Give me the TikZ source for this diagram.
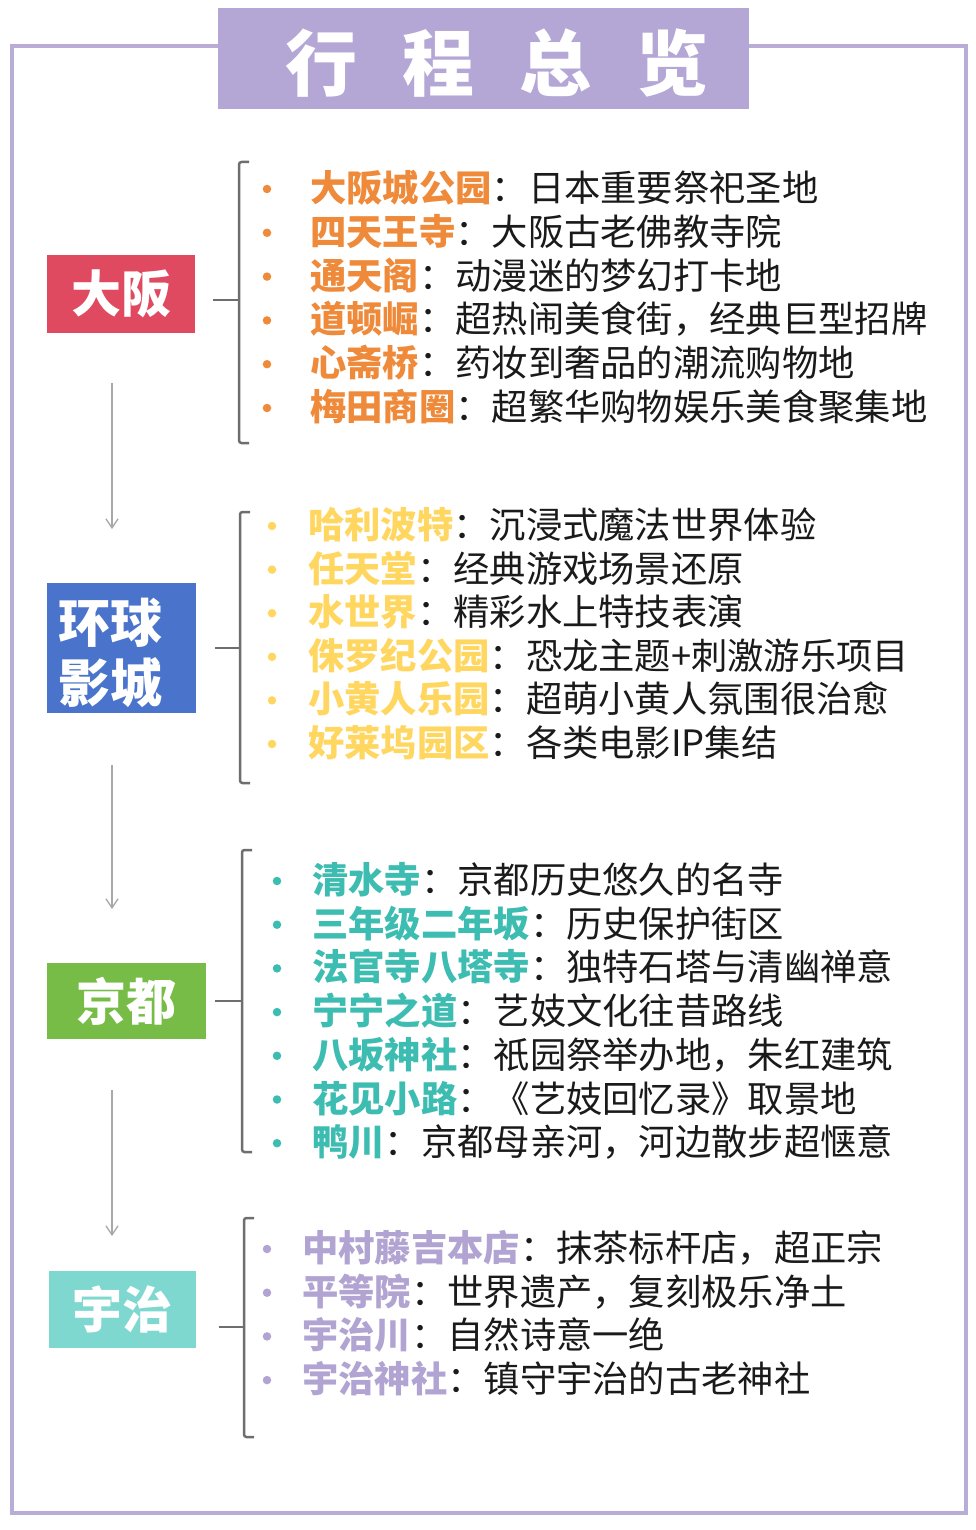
\documentclass[tikz,border=0pt]{standalone}
\usepackage{fontspec}
\setmainfont{Noto Sans CJK SC}
\usetikzlibrary{arrows.meta}
\definecolor{lav}{HTML}{B4A7D6}
\definecolor{framec}{HTML}{B9ADD8}
\definecolor{kor}{HTML}{EF8A3A}
\definecolor{kye}{HTML}{FFD760}
\definecolor{kte}{HTML}{3DBDB1}
\definecolor{kla}{HTML}{B2A4D2}
\definecolor{boxred}{HTML}{E04A60}
\definecolor{boxblue}{HTML}{4A74CC}
\definecolor{boxgreen}{HTML}{76BC47}
\definecolor{boxteal}{HTML}{7ED8D0}
\definecolor{brkc}{HTML}{6E6E6E}
\definecolor{arrc}{HTML}{A8A8A8}
\definecolor{txt}{HTML}{1A1A1A}
\begin{document}
\begin{tikzpicture}[x=1pt,y=-1pt,
  framestyle/.style={draw=framec,line width=4pt},
  titlebox/.style={fill=lav,minimum width=531pt,minimum height=101pt,inner sep=0pt},
  titletext/.style={text=white,font=\fontsize{72}{72}\selectfont\bfseries,inner sep=0pt},
  citybox/.style={inner sep=0pt,text=white,font=\fontsize{50}{56}\selectfont\bfseries},
  itm/.style={inner sep=0pt,text=txt,font=\fontsize{36.3}{36}\selectfont},
  bul/.style={circle,inner sep=0pt,minimum size=8.5pt},
  brk/.style={draw=brkc,line width=2.5pt,rounded corners=2.5pt},
  arr/.style={draw=arrc,line width=1.3pt,-{Straight Barb[length=9pt,width=12pt]}}
  ]
\useasboundingbox (0,0) rectangle (975,1530);
\fill[white] (0,0) rectangle (975,1530);
\draw[framestyle] (12,46) rectangle (966,1513);
\node[titlebox] (title) at (483.5,59) {};
\node[titletext] (ttl) at (497,63) {行\hspace{45pt}程\hspace{45pt}总\hspace{45pt}览};

% city boxes
\node[citybox,fill=boxred,minimum width=148pt,minimum height=77pt] (osaka) at (121,294) {大阪};
\node[citybox,fill=boxblue,minimum width=149pt,minimum height=130pt] (usj) at (121.5,648) {};
\node[citybox,align=left,font=\fontsize{52}{60}\selectfont\bfseries] (usjt) at (110.5,653) {环球\\影城};
\node[citybox,fill=boxgreen,minimum width=159pt,minimum height=76pt] (kyoto) at (126.5,1001) {京都};
\node[citybox,fill=boxteal,minimum width=147pt,minimum height=77pt] (uji) at (122.5,1309.5) {宇治};

% arrows
\coordinate (a1s) at (112,383);
\coordinate (a1e) at (112,529);
\coordinate (a2s) at (112,765);
\coordinate (a2e) at (112,909);
\coordinate (a3s) at (112,1090);
\coordinate (a3e) at (112,1236);
\draw[arr] (a1s) -- (a1e);
\draw[arr] (a2s) -- (a2e);
\draw[arr] (a3s) -- (a3e);

% brackets
\draw[brk] (249,162) -- (239,162) -- (239,443) -- (249,443);
\coordinate (s1) at (213,300);
\draw[brk] (s1) -- (239,300);
\draw[brk] (250,512) -- (240,512) -- (240,783) -- (250,783);
\coordinate (s2) at (215,648);
\draw[brk] (s2) -- (240,648);
\draw[brk] (252,850) -- (242,850) -- (242,1152) -- (252,1152);
\coordinate (s3) at (215,1001);
\draw[brk] (s3) -- (242,1001);
\draw[brk] (254,1218) -- (244,1218) -- (244,1437) -- (254,1437);
\coordinate (s4) at (219,1327);
\draw[brk] (s4) -- (244,1327);

% Osaka items
\foreach \k/\d [count=\i] in {大阪城公园/日本重要祭祀圣地,四天王寺/大阪古老佛教寺院,通天阁/动漫迷的梦幻打卡地,道顿崛/超热闹美食街，经典巨型招牌,心斋桥/药妆到奢品的潮流购物地,梅田商圈/超繁华购物娱乐美食聚集地}{
  \node[bul,fill=kor] (ob\i) at (267,{189+(\i-1)*43.8}) {};
  \node[itm,anchor=base west] (oi\i) at (310,{188+(\i-1)*43.8+13.5}) {\textcolor{kor}{\bfseries\k}：\d};
}
% USJ items
\foreach \k/\d [count=\i] in {哈利波特/沉浸式魔法世界体验,任天堂/经典游戏场景还原,水世界/精彩水上特技表演,侏罗纪公园/恐龙主题+刺激游乐项目,小黄人乐园/超萌小黄人氛围很治愈,好莱坞园区/各类电影IP集结}{
  \node[bul,fill=kye] (ub\i) at (272,{526+(\i-1)*43.6}) {};
  \node[itm,anchor=base west] (ui\i) at (308,{525+(\i-1)*43.6+13.5}) {\textcolor{kye}{\bfseries\k}：\d};
}
% Kyoto items
\foreach \k/\d [count=\i] in {清水寺/京都历史悠久的名寺,三年级二年坂/历史保护街区,法官寺八塔寺/独特石塔与清幽禅意,宁宁之道/艺妓文化往昔路线,八坂神社/祇园祭举办地，朱红建筑,花见小路/《艺妓回忆录》取景地,鸭川/京都母亲河，河边散步超惬意}{
  \node[bul,fill=kte] (kb\i) at (277,{881+(\i-1)*43.7}) {};
  \node[itm,anchor=base west] (ki\i) at (312,{880+(\i-1)*43.7+13.5}) {\textcolor{kte}{\bfseries\k}：\d};
}
% Uji items
\foreach \k/\d [count=\i] in {中村藤吉本店/抹茶标杆店，超正宗,平等院/世界遗产，复刻极乐净土,宇治川/自然诗意一绝,宇治神社/镇守宇治的古老神社}{
  \node[bul,fill=kla] (jb\i) at (267,{1249+(\i-1)*43.7}) {};
  \node[itm,anchor=base west] (ji\i) at (302,{1248+(\i-1)*43.7+13.5}) {\textcolor{kla}{\bfseries\k}：\d};
}
\end{tikzpicture}
\end{document}
